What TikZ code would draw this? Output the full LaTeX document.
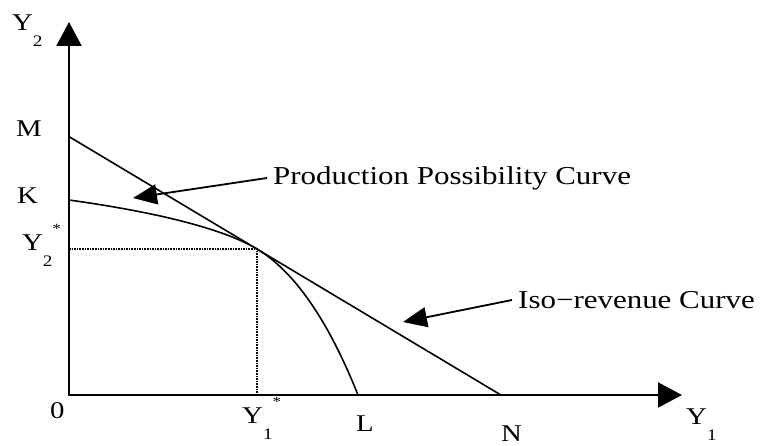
\documentclass[tikz,border=0pt]{standalone}
\usepackage{fontspec}
\setmainfont{Liberation Serif}[FakeStretch=1.2]
\usetikzlibrary{
		arrows.meta,
		positioning
	}
\tikzset{
		>=stealth,
		axistip/.tip={Triangle[width=25pt,length=24pt]},
		axis/.style={line width=2.2pt},
		curve/.style={line width=1.6pt},
		guide/.style={line width=1.6pt,dash pattern=on 1.6pt off 1pt},
		pointer/.style={line width=1.8pt,-{Triangle[width=20pt,length=24pt]}},
		lab/.style={inner sep=0pt,anchor=base west,font=\fontsize{24}{28}\selectfont},
		note/.style={inner xsep=6pt,inner ysep=0pt,anchor=west,font=\fontsize{25.8}{30}\selectfont}
	}
\newcommand{\subidx}[1]{\raisebox{-16pt}{\fontsize{16}{16}\selectfont #1}}
\newcommand{\supstar}{\raisebox{17pt}{\fontsize{14}{14}\selectfont *}}

\begin{document}
\begin{tikzpicture}[x=1pt,y=1pt]
\useasboundingbox (0,0) rectangle (762,445);
\coordinate (O) at (69,50);
\coordinate (ytip) at (69,423);
\coordinate (xtip) at (682,50);
\coordinate (M) at (69,308.4);
\coordinate (N) at (500.9,50);
\coordinate (K) at (69,245);
\coordinate (T) at (257,196);
\coordinate (L) at (358,50);
\draw[axis,axistip-axistip] (ytip) -- (O) -- (xtip);
\draw[curve] (M) -- (N);
\draw[curve] (K) .. controls (162.9,231.9) and (225.6,214.9) .. (T)
	.. controls (294,173.8) and (327.7,125.8) .. (L);
\draw[guide] (O |- T) -- (T) -- (T |- O);
% axis labels
\node[lab] (y2) at (12,414) {Y\subidx{2}};
\node[lab] (m) at (16,308) {M};
\node[lab] (k) at (17,242) {K};
\node[lab] (y2s) at (22,195) {Y\subidx{2}\supstar};
\node[lab] (zero) at (50,27) {0};
\node[lab] (y1s) at (242,22) {Y\subidx{1}\supstar};
\node[lab] (l) at (356,14) {L};
\node[lab] (n) at (501,4) {N};
\node[lab] (y1) at (686,21) {Y\subidx{1}};
% curve names
\node[note] (ppc) at (267,267) {Production Possibility Curve};
\coordinate (ppctip) at (133,247);
\draw[pointer] (ppc.west) -- (ppctip);
\node[note] (iso) at (512,145) {Iso−revenue Curve};
\coordinate (isotip) at (403,123);
\draw[pointer] (iso.west) -- (isotip);
\end{tikzpicture}
\end{document}
